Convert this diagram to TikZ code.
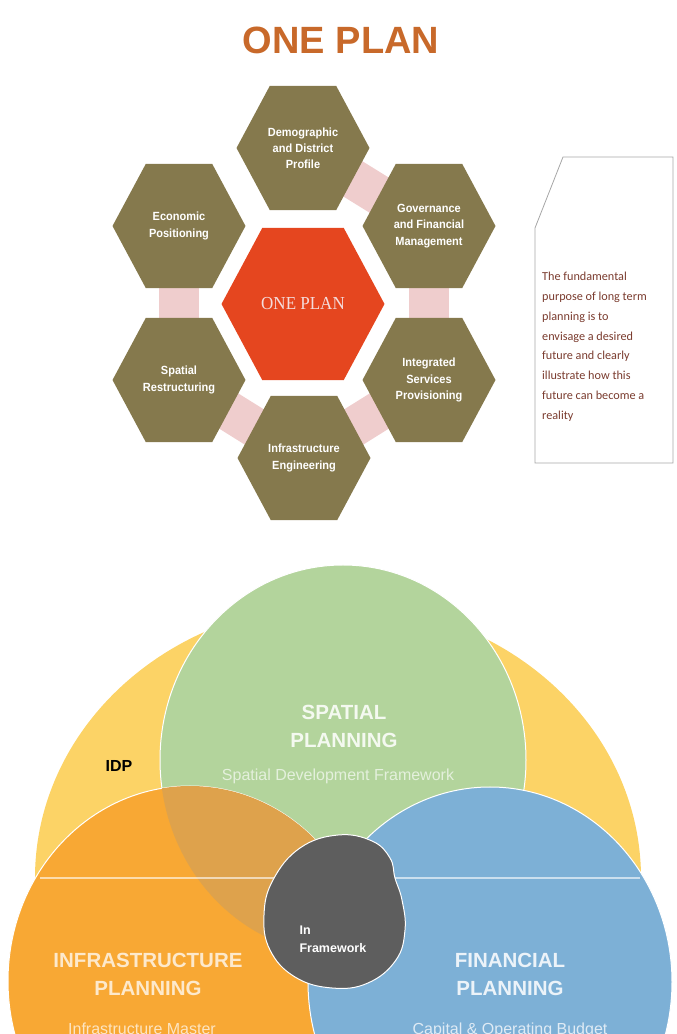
\documentclass[tikz,border=0pt]{standalone}
\usepackage{fontspec}
\setmainfont{Liberation Sans}
\newfontfamily\serifface{Liberation Serif}
\newfontfamily\noteface{Carlito}
\usetikzlibrary{shapes.geometric,backgrounds}
\definecolor{planolive}{HTML}{85794D}
\definecolor{planred}{HTML}{E5461F}
\definecolor{planpink}{HTML}{EFCDCD}
\definecolor{plantitle}{HTML}{C8692A}
\definecolor{idpyellow}{HTML}{FCD366}
\definecolor{spgreen}{HTML}{B3D49C}
\definecolor{infraorange}{HTML}{F8A834}
\definecolor{overlaporange}{HTML}{DEA24C}
\definecolor{finblue}{HTML}{7DB0D6}
\definecolor{fwgrey}{HTML}{5E5E5E}
\definecolor{notered}{HTML}{7A3B2E}

\begin{document}
\begin{tikzpicture}[x=1pt,y=1pt,
hexcell/.style={regular polygon,regular polygon sides=6,minimum size=133pt,
inner sep=0pt,yscale=1.077,fill=planolive,text=white,align=center,
font=\fontsize{11}{15}\selectfont\bfseries},
hexcore/.style={hexcell,minimum size=163pt,fill=planred,text=planpink!70!white,
font=\fontsize{17}{20}\selectfont\serifface},
link/.style={line width=40pt,draw=planpink},
venn/.style={draw=white,line width=1pt},
bigtag/.style={font=\fontsize{20.5}{28}\selectfont\bfseries,align=center},
subtag/.style={font=\fontsize{16}{19}\selectfont}
]
\useasboundingbox (0,0) rectangle (677,1034);
\clip (0,0) rectangle (677,1034);

% one plan cluster
\node[font=\fontsize{38}{40}\selectfont\bfseries,text=plantitle] (title) at (341,994) {ONE PLAN};
\node[hexcell] (demo) at (303,886) {Demographic\\and District\\Profile};
\node[hexcell] (econ) at (179,808) {Economic\\Positioning};
\node[hexcell] (gov) at (429,808) {Governance\\and Financial\\Management};
\node[hexcell] (spat) at (179,654) {Spatial\\Restructuring};
\node[hexcell] (integ) at (429,654) {Integrated\\Services\\Provisioning};
\node[hexcell] (infeng) at (304,576) {Infrastructure\\Engineering};
\node[hexcore] (core) at (303,730) {ONE PLAN};
\begin{scope}[on background layer]
\draw[link] (demo.center) -- (gov.center);
\draw[link] (gov.center) -- (integ.center);
\draw[link] (integ.center) -- (infeng.center);
\draw[link] (infeng.center) -- (spat.center);
\draw[link] (spat.center) -- (econ.center);
\end{scope}

% note
\draw[gray!70,line width=0.8pt] (563,877) -- (673,877) -- (673,571) -- (535,571) -- (535,806) -- cycle;
\node[anchor=north west,align=left,inner sep=0pt,text=notered,
font=\noteface\fontsize{12.2}{19.8}\selectfont] (note) at (542,762)
{The fundamental\\purpose of long term\\planning is to\\envisage a desired\\future and clearly\\illustrate how this\\future can become a\\reality};

% planning circles
\fill[idpyellow] (35,156) arc[start angle=180,end angle=0,x radius=303,y radius=274] -- cycle;
\path[venn,fill=spgreen] (343,274) ellipse[x radius=183,y radius=195];
\path[venn,fill=infraorange] (190,53) ellipse[x radius=182,y radius=195];
\begin{scope}
\clip (343,274) ellipse[x radius=183,y radius=195];
\fill[overlaporange] (190,53) ellipse[x radius=182,y radius=195];
\end{scope}
\path[venn,fill=finblue] (490,52) ellipse[x radius=182,y radius=195];
\draw[white,opacity=.6,line width=1.2pt] (40,156) -- (640,156);
\path[venn,fill=fwgrey] plot[smooth cycle,tension=0.7] coordinates {(338,199) (372,193) (390,176)
(395,156) (402,134) (405,104) (396,74) (368,51) (332,46) (295,57) (270,84) (264,119) (273,154) (300,186)};

\node[font=\fontsize{16}{18}\selectfont\bfseries] (idp) at (119,268) {IDP};
\node[bigtag,text=spgreen!15!white] (sptag) at (344,308) {SPATIAL\\PLANNING};
\node[subtag,text=spgreen!35!white] (spsub) at (338,258) {Spatial Development Framework};
\node[bigtag,text=infraorange!25!white] (inftag) at (148,60) {INFRASTRUCTURE\\PLANNING};
\node[subtag,text=infraorange!30!white,anchor=base] (infsub) at (142,0) {Infrastructure Master};
\node[bigtag,text=finblue!15!white] (fintag) at (510,60) {FINANCIAL\\PLANNING};
\node[subtag,text=finblue!25!white,anchor=base] (finsub) at (510,0) {Capital \& Operating Budget};
\node[anchor=west,align=left,text=white,font=\fontsize{12.5}{18}\selectfont\bfseries] (fwtag) at (296,95) {In\\Framework};
\end{tikzpicture}
\end{document}
